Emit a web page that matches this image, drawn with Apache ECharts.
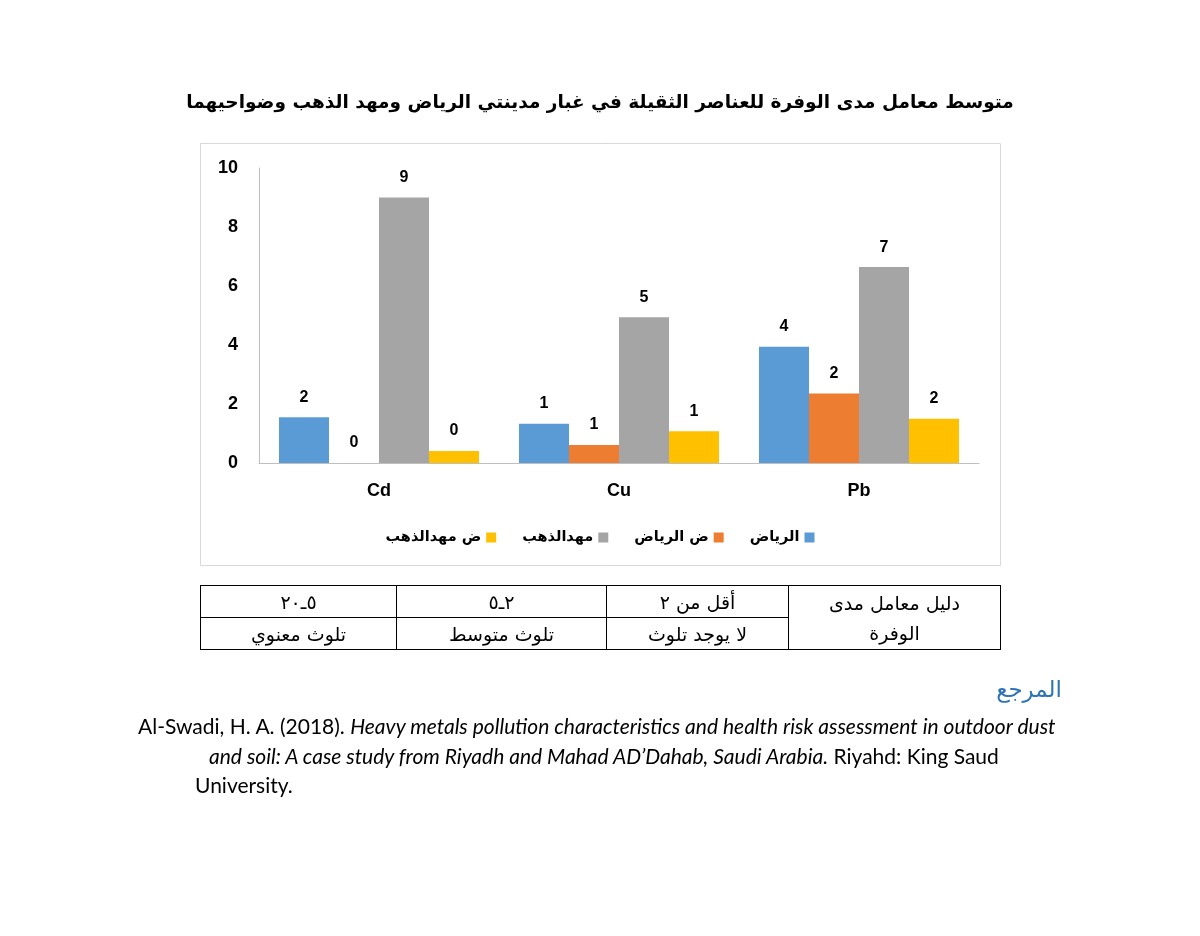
<!DOCTYPE html>
<html>
<head>
<meta charset="utf-8">
<script src="https://cdn.jsdelivr.net/npm/echarts@6/dist/echarts.min.js"></script>
<style>
    body { margin: 0; background: #fff; }
    #chart { position: absolute; left: 0; top: 0; width: 1200px; height: 936px; }
    #scale { position: absolute; left: 200px; top: 585px; width: 801px; border-collapse: collapse; direction: rtl;
             font-family: "DejaVu Sans", serif; font-size: 19px; color: #000; }
    #scale td { border: 1px solid #000; text-align: center; padding: 0; height: 31px; }
    .ref-title { position: absolute; right: 138px; top: 676px; color: #2e74b5; font-family: "DejaVu Sans", sans-serif; font-size: 23px; direction: rtl; }
    .ref { position: absolute; font-family: Lato, sans-serif; font-size: 21px; color: #000; white-space: nowrap; }
</style>
</head>
<body>
<div id="chart"></div>
<table id="scale">
    <tr>
        <td rowspan="2" style="width: 211px; line-height: 30px;">دليل معامل مدى<br>الوفرة</td>
        <td style="width: 181px;">أقل من ٢</td>
        <td style="width: 209px;">٢ـ٥</td>
        <td>٥ـ٢٠</td>
    </tr>
    <tr>
        <td>لا يوجد تلوث</td>
        <td>تلوث متوسط</td>
        <td>تلوث معنوي</td>
    </tr>
</table>
<div class="ref-title">المرجع</div>
<div class="ref" style="left: 138px; top: 713px;">Al-Swadi, H. A. (2018). <i>Heavy metals pollution characteristics and health risk assessment in outdoor dust</i></div>
<div class="ref" style="left: 209px; top: 743px;"><i>and soil: A case study from Riyadh and Mahad AD’Dahab, Saudi Arabia.</i> Riyahd: King Saud</div>
<div class="ref" style="left: 195px; top: 772px;">University.</div>

<script>
// 元素
let elements = ['Cd', 'Cu', 'Pb'];
// 系列名称
let seriesNames = ['الرياض', 'ض الرياض', 'مهدالذهب', 'ض مهدالذهب'];
// 各系列数值(按元素顺序)
let riyadh = [1.55, 1.33, 3.94];
let riyadhSub = [0, 0.61, 2.36];
let mahad = [9.0, 4.94, 6.64];
let mahadSub = [0.41, 1.08, 1.50];
let colors = ['#5b9bd5', '#ed7d31', '#a5a5a5', '#ffc000'];

let chart = echarts.init(document.getElementById('chart'));

let allData = [riyadh, riyadhSub, mahad, mahadSub];
let series = allData.map(function (d, i) {
    return {
        name: seriesNames[i],
        type: 'bar',
        data: d,
        barWidth: 50,
        barGap: '0%',
        itemStyle: { color: colors[i] },
        label: {
            show: true,
            position: 'top',
            distance: 12,
            fontSize: 16,
            fontWeight: 'bold',
            color: '#000',
            formatter: function (p) { return Math.round(p.value); }
        }
    };
});

let option = {
    animation: false,
    textStyle: { fontFamily: 'Liberation Sans, DejaVu Sans, sans-serif' },
    title: {
        text: 'متوسط معامل مدى الوفرة للعناصر الثقيلة في غبار مدينتي الرياض ومهد الذهب وضواحيهما',
        left: 'center',
        top: 89,
        textStyle: { fontSize: 18.5, fontWeight: 'bold', color: '#000', fontFamily: 'DejaVu Sans' }
    },
    graphic: [{
        type: 'rect',
        shape: { x: 200.5, y: 143.5, width: 800, height: 422 },
        style: { fill: 'none', stroke: '#d9d9d9', lineWidth: 1 },
        silent: true
    }],
    legend: {
        data: seriesNames.slice().reverse(),
        left: 'center',
        top: 525,
        align: 'right',
        icon: 'rect',
        itemWidth: 10,
        itemHeight: 10,
        itemGap: 26,
        textStyle: { fontSize: 14.5, fontWeight: 'bold', color: '#000', fontFamily: 'DejaVu Sans' }
    },
    grid: {
        left: 259,
        right: 221,
        top: 168,
        bottom: 473
    },
    xAxis: {
        type: 'category',
        data: elements,
        axisLine: { lineStyle: { color: '#bfbfbf', width: 1 } },
        axisTick: { show: false },
        axisLabel: { fontSize: 18, fontWeight: 'bold', color: '#000', margin: 19 }
    },
    yAxis: {
        type: 'value',
        min: 0,
        max: 10,
        interval: 2,
        axisLine: { show: true, lineStyle: { color: '#bfbfbf', width: 1 } },
        splitLine: { show: false },
        axisLabel: { fontSize: 18, fontWeight: 'bold', color: '#000', margin: 21 }
    },
    series: series
};

chart.setOption(option);
</script>
</body>
</html>
